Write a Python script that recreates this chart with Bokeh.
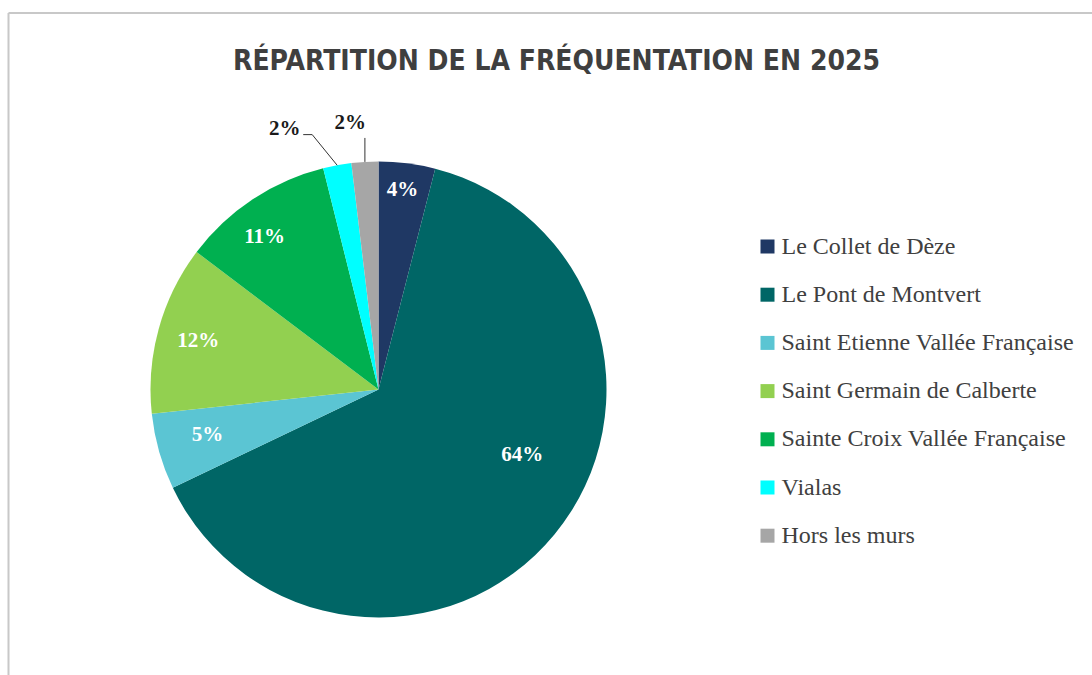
import math
from bokeh.plotting import figure
from bokeh.models import Range1d, ColumnDataSource
from bokeh.core.properties import value
from bokeh.embed import file_html
from bokeh.resources import INLINE

# ---- data ----
title_text = "RÉPARTITION DE LA FRÉQUENTATION EN 2025"
categories = ["Le Collet de Dèze", "Le Pont de Montvert", "Saint Etienne Vallée Française",
              "Saint Germain de Calberte", "Sainte Croix Vallée Française", "Vialas", "Hors les murs"]
shares = [4.0, 63.9, 5.4, 12.0, 10.8, 2.0, 1.9]
colors = ["#1F3864", "#006666", "#5BC5D3", "#92D050", "#00B050", "#00FFFF", "#A6A6A6"]

# ---- style / layout ----
W, H = 1092, 675
PY = lambda y: H - y                      # page y -> data y
CX, CY, R = 378, PY(389), 228
label_r = [0.886, 0.69, 0.775, 0.82, 0.84, 1.218, 1.18]
label_shift = [-0.4, -15.4, 1.1, 0.0, -3.0, -9.3, -2.6]   # degrees clockwise from slice middle
inside = [True, True, True, True, True, False, False]

p = figure(width=W, height=H, output_backend="svg", toolbar_location=None,
           x_range=Range1d(0, W), y_range=Range1d(0, H), min_border=0)
p.axis.visible = False
p.grid.visible = False
p.outline_line_color = None
p.background_fill_color = "white"
p.border_fill_color = "white"

# chart frame border (top and left)
p.line([8, W], [PY(12.5), PY(12.5)], line_color="#C8C8C8", line_width=2)
p.line([8, 8], [0, PY(12.5)], line_color="#C8C8C8", line_width=2)

total = sum(shares)
starts, ends, mid_cw = [], [], []
cum = 0.0
for s in shares:
    c0 = 360.0 * cum / total
    cum += s
    c1 = 360.0 * cum / total
    starts.append(math.radians(90 - c0))
    ends.append(math.radians(90 - c1))
    mid_cw.append((c0 + c1) / 2)

src = ColumnDataSource(dict(x=[CX] * len(shares), y=[CY] * len(shares),
                            start=starts, end=ends, color=colors, name=categories))
p.wedge(x="x", y="y", radius=R, radius_units="screen", start_angle="start", end_angle="end",
        direction="clock", fill_color="color", line_color=None, source=src)

# data labels
pct = [f"{round(s / total * 100):d}%" for s in shares]
lab = []
for i in range(len(shares)):
    a = math.radians(90 - (mid_cw[i] + label_shift[i]))
    rr = R * label_r[i]
    lab.append((CX + rr * math.cos(a), CY + rr * math.sin(a)))

in_idx = [i for i in range(len(shares)) if inside[i]]
out_idx = [i for i in range(len(shares)) if not inside[i]]
p.text([lab[i][0] for i in in_idx], [lab[i][1] for i in in_idx], text=[pct[i] for i in in_idx],
       text_color="white", text_font=value("Liberation Serif"), text_font_style="bold",
       text_font_size="21px", text_align="center", text_baseline="middle")
p.text([lab[i][0] for i in out_idx], [lab[i][1] for i in out_idx], text=[pct[i] for i in out_idx],
       text_color="#1a1a1a", text_font=value("Liberation Serif"), text_font_style="bold",
       text_font_size="21px", text_align="center", text_baseline="middle")

# leader lines for outside labels
for i in out_idx:
    a = math.radians(90 - mid_cw[i])
    ex, ey = CX + R * math.cos(a), CY + R * math.sin(a)
    lx, ly = lab[i]
    if lx < ex - 20:
        p.line([lx + 18.5, lx + 27.5, ex], [ly - 6.5, ly - 6.5, ey], line_color="#333333", line_width=1)
    else:
        p.line([ex, ex], [ey, ly - 16], line_color="#333333", line_width=1)

# legend
leg_x, leg_y0, leg_dy = 767, PY(246), 48.2
for i, (c, name) in enumerate(zip(colors, categories)):
    yy = leg_y0 - i * leg_dy
    p.rect([leg_x], [yy], width=14, height=14, width_units="screen", height_units="screen",
           fill_color=c, line_color=None)
    p.text([leg_x + 14], [yy + 1], text=[name], text_color="#404040",
           text_font=value("Liberation Serif"), text_font_size="24px",
           text_align="left", text_baseline="middle")

# title
p.text([556], [PY(60)], text=[title_text], text_color="#3F3F3F",
       text_font=value("DejaVu Sans Condensed"), text_font_style="bold", text_font_size="28px",
       text_align="center", text_baseline="middle")

open("out.html", "w").write(file_html(p, INLINE))
